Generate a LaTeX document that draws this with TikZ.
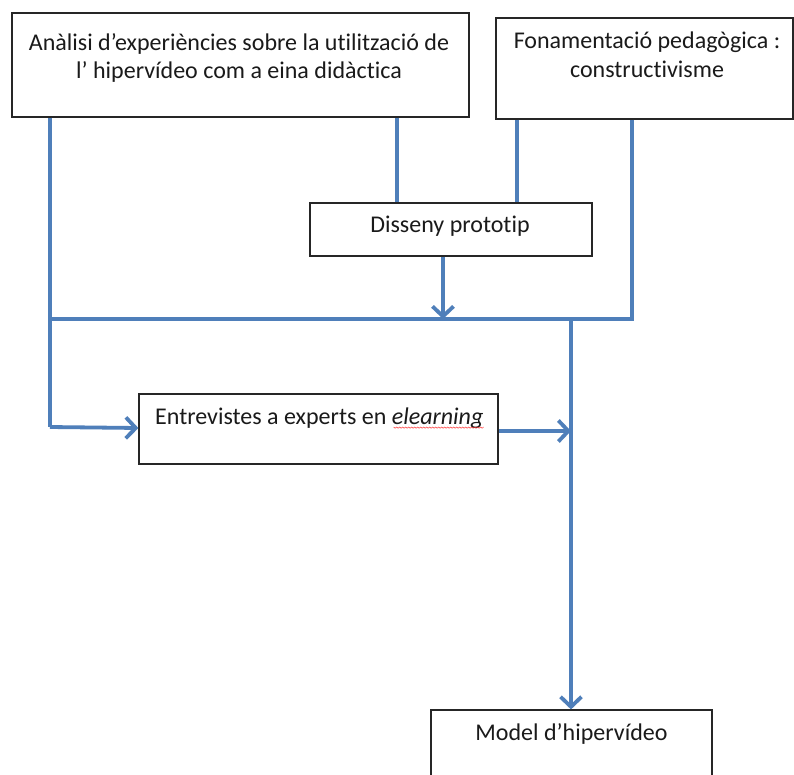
\documentclass[tikz,border=0pt]{standalone}
\usepackage{fontspec}
\setmainfont[Ligatures=NoCommon]{Carlito}
\usetikzlibrary{arrows.meta}
\definecolor{flowblue}{HTML}{4F7FBA}
\definecolor{txtgray}{HTML}{1A1A1A}
\begin{document}
\begin{tikzpicture}[x=1pt,y=-1pt,
  box/.style={draw=black!85,line width=1.2pt,rectangle,inner sep=0pt,fill=white},
  lbl/.style={font=\fontsize{24}{29}\selectfont,text=txtgray,inner sep=0pt,anchor=base},
  flow/.style={draw=flowblue,line width=3.8pt},
  arr/.style={flow,-{Straight Barb[length=10pt,width=21pt]}}]
\clip (0,0) rectangle (794,774);
\fill[white] (0,0) rectangle (794,774);
% boxes
\node[box,minimum width=457pt,minimum height=104pt] (b1) at (240.5,65) {};
\node[box,minimum width=297pt,minimum height=101pt] (b2) at (644.5,68.5) {};
\node[box,minimum width=282pt,minimum height=53pt] (b3) at (451,229.5) {};
\node[box,minimum width=359pt,minimum height=70pt] (b4) at (318.5,429) {};
\node[box,minimum width=281pt,minimum height=100pt] (b5) at (571.5,760) {};
% texts
\node[lbl] (t1a) at (239,50) {Anàlisi d’experiències sobre la utilització de};
\node[lbl] (t1b) at (239,78) {l’ hipervídeo com a eina didàctica};
\node[lbl] (t2a) at (647,48.5) {Fonamentació pedagògica :};
\node[lbl] (t2b) at (647,77) {constructivisme};
\node[lbl] (t3) at (450,232) {Disseny prototip};
\node[lbl,anchor=base west] (t4) at (155,424) {Entrevistes a experts en \textit{elearning}};
\node[lbl] (t5) at (571.5,740) {Model d’hipervídeo};
% squiggle under elearning
\draw[red!80,line width=0.5pt] ([yshift=-3pt]t4.base east) ++(-90,0)
  \foreach \i in {1,...,30} { -- ++(1.5,1.2) -- ++(1.5,-1.2) };
% coordinates
\coordinate (x50) at (50,0);
\coordinate (x397) at (397,0);
\coordinate (x517) at (517,0);
\coordinate (x632) at (632,0);
\coordinate (x443) at (443,0);
\coordinate (x571) at (571,0);
\coordinate (busL) at (50,319);
\coordinate (busR) at (632,319);
\coordinate (busM) at (571,319);
\coordinate (bend) at (50,427);
\coordinate (j4) at (571,431);
% connectors
\draw[flow] (b1.south -| x397) -- (b3.north -| x397);
\draw[flow] (b2.south -| x517) -- (b3.north -| x517);
\draw[flow] (b2.south -| x632) -- (busR) -- (busL);
\draw[arr] (b3.south -| x443) -- (busL -| x443);
\draw[flow,line join=round] (b1.south -| x50) -- (bend);
\draw[arr] (bend) -- (b4.west |- 0,428);
\draw[arr] (b4.east |- j4) -- (j4);
\draw[arr] (busM) -- (b5.north -| x571);
\end{tikzpicture}
\end{document}
